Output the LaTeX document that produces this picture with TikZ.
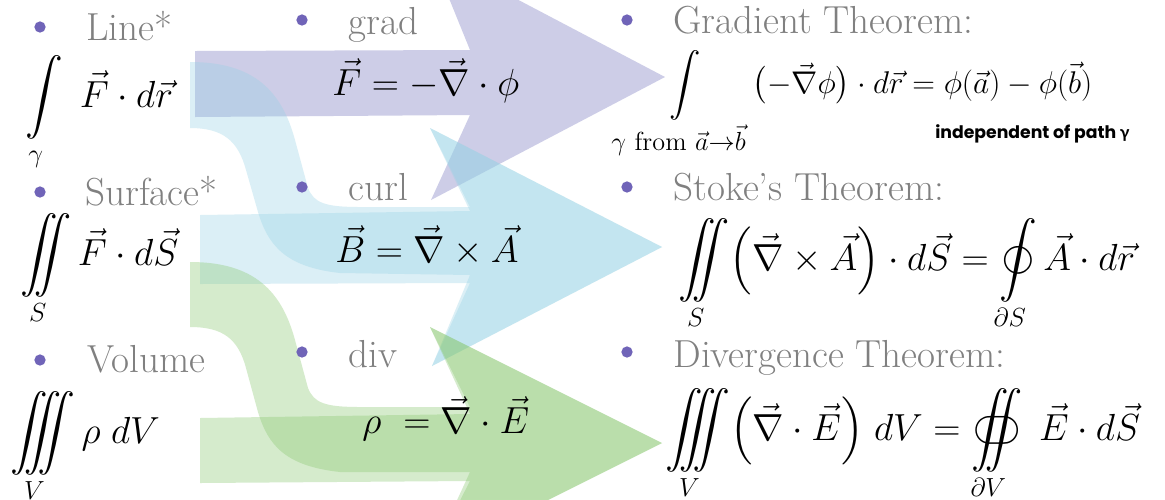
\documentclass[tikz,border=0pt]{standalone}
\usepackage{amsmath,amssymb}
\usepackage{esint}
\usepackage{fontspec}
\newfontfamily\notefont{Poppins}
\newfontfamily\notegreek{Lato}
\usetikzlibrary{calc}

\definecolor{gradcol}{RGB}{112,112,189}
\definecolor{curlcol}{RGB}{150,210,229}
\definecolor{divcol}{RGB}{136,200,110}
\definecolor{dotcol}{RGB}{112,100,184}
\definecolor{labelgray}{RGB}{128,128,128}

\begin{document}
\begin{tikzpicture}[x=0.55pt, y=-0.55pt,
    dot/.style={circle, fill=dotcol, inner sep=0pt, minimum size=6.2pt},
    topic/.style={anchor=base west, inner sep=0pt, text=labelgray,
                  font=\fontsize{21.5}{26}\selectfont},
    formula/.style={anchor=base west, inner sep=0pt, font=\huge}]

\fill[white] (0,0) rectangle (1165,499);
\useasboundingbox (0,0) rectangle (1165,499);

% ===================== ARROWS =====================
% grad: straight arrow
\fill[gradcol, fill opacity=0.35] (195,51) -- (470,50) -- (431,-46) -- (665,77)
    -- (431,200) -- (470,115) -- (195,117) -- cycle;

% curl: straight arrow + bent arrow from the line integral
\fill[curlcol, fill opacity=0.34] (200,215) -- (470,211) -- (430,128) -- (662,247)
    -- (432,366) -- (470,283) -- (200,284) -- cycle;
\fill[curlcol, fill opacity=0.34] (190,62) .. controls (255,62) and (282,92) .. (295,140)
    -- (308,188) .. controls (314,203) and (325,207) .. (360,207) -- (470,207)
    -- (430,128) -- (662,247) -- (432,366) -- (470,275) -- (340,273)
    .. controls (285,267) and (268,245) .. (258,212) -- (246,170)
    .. controls (238,140) and (222,128) .. (190,128) -- cycle;

% div: straight arrow + bent arrow from the surface integral
\fill[divcol, fill opacity=0.35] (200,418) -- (470,414) -- (430,327) -- (662,443)
    -- (430,559) -- (470,481) -- (200,483) -- cycle;
\fill[divcol, fill opacity=0.35] (190,262) .. controls (255,262) and (282,292) .. (295,340)
    -- (308,388) .. controls (314,403) and (325,407) .. (360,407) -- (470,407)
    -- (430,327) -- (662,443) -- (430,559) -- (470,472) -- (340,472)
    .. controls (285,466) and (268,445) .. (258,412) -- (246,368)
    .. controls (238,338) and (222,327) .. (190,327) -- cycle;

% ===================== LEFT: INTEGRALS =====================
\node[dot] (bLine) at (40,27) {};
\node[topic] (tLine) at (86,40) {Line*};
\node[formula] (fLine) at (25,107) {$\displaystyle\int\limits_\gamma\; \vec F\cdot d\vec r$};

\node[dot] (bSurf) at (40,192) {};
\node[topic] (tSurf) at (85,205) {Surface*};
\node[formula] (fSurf) at (20,265) {$\displaystyle\iint\limits_S \vec F\cdot d\vec S$};

\node[dot] (bVol) at (40,360) {};
\node[topic] (tVol) at (87,372) {Volume};
\node[formula] (fVol) at (10,443) {$\displaystyle\iiint\limits_V \rho\; dV$};

% ===================== MIDDLE: OPERATORS =====================
\node[dot] (bGrad) at (302,20) {};
\node[topic] (tGrad) at (348,34) {grad};
\node[formula] (fGrad) at (332,95) {$\vec F = -\vec\nabla\cdot\phi$};

\node[dot] (bCurl) at (302,187) {};
\node[topic] (tCurl) at (348,200) {curl};
\node[formula] (fCurl) at (335,262) {$\vec B = \vec\nabla\times\vec A$};

\node[dot] (bDiv) at (302,352) {};
\node[topic] (tDiv) at (348,367) {div};
\node[formula] (fDiv) at (362,433) {$\rho\ = \vec\nabla\cdot\vec E$};

% ===================== RIGHT: THEOREMS =====================
\node[dot] (bGT) at (627,20) {};
\node[topic] (tGT) at (673,33) {Gradient Theorem:};
\node[formula, font=\LARGE] (fGT) at (618,93)
    {$\displaystyle\int\limits_{\text{\Large$\gamma$ from $\vec a{\to}\vec b$}}\bigl(-\vec\nabla\phi\bigr)\cdot d\vec r=\phi(\vec a)-\phi(\vec b)$};
\node[anchor=base west, inner sep=0pt, font=\notefont\bfseries\fontsize{9.5}{11}\selectfont]
    (nGT) at (935,138) {independent of path {\notegreek γ}};

\node[dot] (bST) at (627,187) {};
\node[topic] (tST) at (673,200) {Stoke’s Theorem:};
\node[formula] (fST) at (678,270)
    {$\displaystyle\iint\limits_S \Bigl(\vec\nabla\times\vec A\Bigr)\cdot d\vec S=\oint\limits_{\partial S}\vec A\cdot d\vec r$};

\node[dot] (bDT) at (627,352) {};
\node[topic] (tDT) at (673,367) {Divergence Theorem:};
\node[formula] (fDT) at (665,440)
    {$\displaystyle\iiint\limits_V \Bigl(\vec\nabla\cdot\vec E\Bigr)\; dV=\oiint\limits_{\partial V}\;\vec E\cdot d\vec S$};

\end{tikzpicture}
\end{document}
